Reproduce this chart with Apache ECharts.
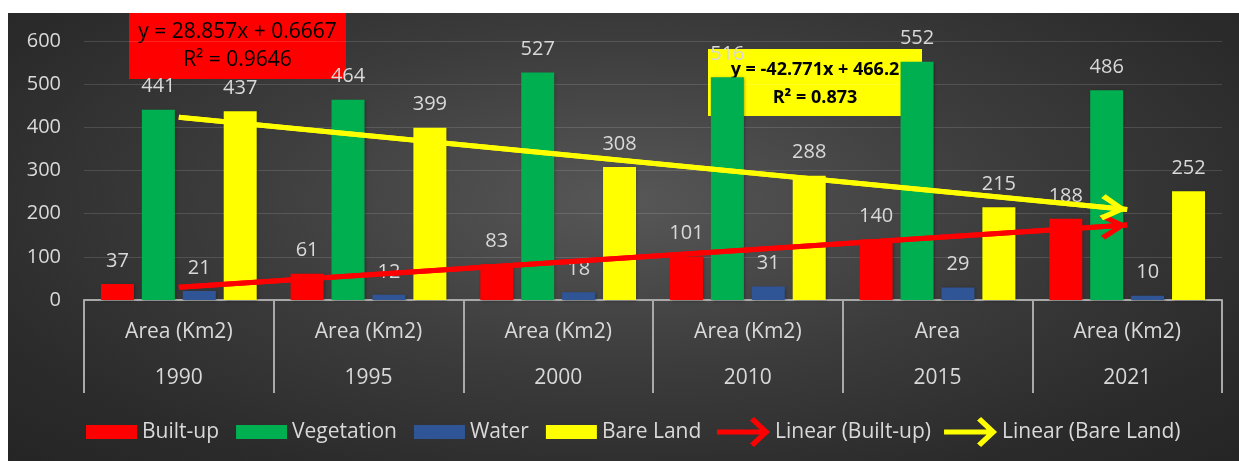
<!DOCTYPE html>
<html>
<head>
<meta charset="utf-8">
<script src="https://cdn.jsdelivr.net/npm/echarts@6/dist/echarts.min.js"></script>
<style>
  html, body { margin: 0; padding: 0; background: #ffffff; width: 1239px; height: 461px; overflow: hidden; }
  #chart {
    position: absolute; left: 8px; top: 13px; width: 1231px; height: 448px;
    background: radial-gradient(ellipse at 50% 42%, #575757 0%, #3c3c3c 45%, #2b2b2b 80%, #252525 100%);
  }
</style>
</head>
<body>
<div id="chart"></div>
<script>
// ---- data ----
const years = ['1990', '1995', '2000', '2010', '2015', '2021'];
const areaLabels = ['Area (Km2)', 'Area (Km2)', 'Area (Km2)', 'Area (Km2)', 'Area', 'Area (Km2)'];
const builtUp = [37, 61, 83, 101, 140, 188];
const vegetation = [441, 464, 527, 516, 552, 486];
const water = [21, 12, 18, 31, 29, 10];
const bareLand = [437, 399, 308, 288, 215, 252];
// trend line end values (first and last category)
const trendBuiltUp = [29.5, 173.8];
const trendBareLand = [423.4, 209.6];
const eqBuiltUp = ['y = 28.857x + 0.6667', 'R² = 0.9646'];
const eqBareLand = ['y = -42.771x + 466.2', 'R² = 0.873'];
const yTicks = [0, 100, 200, 300, 400, 500, 600];

const FONT = '"Open Sans", "DejaVu Sans", sans-serif';
const TXT = '#d9d9d9';
// chevron pointing up, drawn in lower half so its tip sits at the symbol centre
const chevronUp = 'path://M13,0 L13.01,0 Z M13,27 L26,50 L22,54 L13,37 L4,54 L0,50 Z';
const arrowRight = 'path://M0,12.5 L42.6,12.5 L33,3.5 L37,0 L53,15 L37,30 L33,26.5 L42.6,17.5 L0,17.5 Z';

const chart = echarts.init(document.getElementById('chart'), null, { renderer: 'canvas' });

function barSeries(name, values, color) {
  return {
    name, type: 'bar', data: values, barWidth: 33, barGap: '24%',
    itemStyle: { color, shadowBlur: 3, shadowColor: 'rgba(0,0,0,0.35)', shadowOffsetX: 1, shadowOffsetY: 1 },
    label: { show: true, position: 'top', distance: 13, color: TXT, fontSize: 20, fontFamily: FONT },
    emphasis: { disabled: true }
  };
}
function trendSeries(name, ends, color) {
  const last = years.length - 1;
  return {
    name, type: 'line', data: [[0, ends[0]], [last, ends[1]]],
    showSymbol: false, symbol: 'none', silent: true, z: 5,
    lineStyle: { color, width: 5 }, itemStyle: { color },
    markLine: {
      silent: true, animation: false,
      symbol: ['none', chevronUp], symbolSize: [26, 54],
      label: { show: false },
      lineStyle: { color, width: 5, type: 'solid' },
      emphasis: { disabled: true },
      data: [[{ coord: [0, ends[0]] }, { coord: [last, ends[1]] }]]
    }
  };
}

const option = {
  animation: false,
  backgroundColor: 'transparent',
  grid: { left: 76, right: 17, top: 28, bottom: 161 },
  xAxis: {
    type: 'category', data: years,
    axisLine: { lineStyle: { color: '#a9a9a9', width: 2 } },
    axisTick: { show: true, length: 93, lineStyle: { color: '#a9a9a9', width: 2 } },
    axisLabel: {
      margin: 9, interval: 0,
      formatter: (v, i) => '{a|' + areaLabels[i] + '}\n{b|' + v + '}',
      rich: {
        a: { color: TXT, fontSize: 21, fontFamily: FONT, lineHeight: 46 },
        b: { color: TXT, fontSize: 21, fontFamily: FONT, lineHeight: 46 }
      }
    }
  },
  yAxis: {
    type: 'value', min: yTicks[0], max: yTicks[yTicks.length - 1], interval: yTicks[1] - yTicks[0],
    axisLine: { show: false }, axisTick: { show: false },
    axisLabel: { color: TXT, fontSize: 20, fontFamily: FONT, margin: 23 },
    splitLine: { lineStyle: { color: 'rgba(255,255,255,0.13)', width: 1 } }
  },
  legend: [
    {
      data: ['Built-up', 'Vegetation', 'Water', 'Bare Land'], icon: 'rect',
      left: 73, top: 402, itemWidth: 51, itemHeight: 14, itemGap: 17,
      textStyle: { color: TXT, fontSize: 21, fontFamily: FONT, lineHeight: 24 }
    },
    {
      data: [{ name: 'Linear (Built-up)', icon: arrowRight }, { name: 'Linear (Bare Land)', icon: arrowRight }],
      left: 704, top: 399, itemWidth: 53, itemHeight: 30, itemGap: 13,
      textStyle: { color: TXT, fontSize: 21, fontFamily: FONT, lineHeight: 24 }
    }
  ],
  series: [
    barSeries('Built-up', builtUp, '#ff0000'),
    barSeries('Vegetation', vegetation, '#00b050'),
    barSeries('Water', water, '#2f5597'),
    barSeries('Bare Land', bareLand, '#ffff00'),
    trendSeries('Linear (Built-up)', trendBuiltUp, '#ff0000'),
    trendSeries('Linear (Bare Land)', trendBareLand, '#ffff00')
  ],
  graphic: [
    {
      type: 'group', left: 121, top: 0, z: 100,
      children: [
        { type: 'rect', shape: { x: 0, y: 0, width: 217, height: 66 }, style: { fill: '#ff0000' } },
        { type: 'text', x: 108.5, y: 19, style: { text: eqBuiltUp[0], fill: '#000', font: '21px ' + FONT, textAlign: 'center', textVerticalAlign: 'middle' } },
        { type: 'text', x: 108.5, y: 47, style: { text: eqBuiltUp[1], fill: '#000', font: '21px ' + FONT, textAlign: 'center', textVerticalAlign: 'middle' } }
      ]
    },
    {
      type: 'group', left: 700, top: 36, z: 100,
      children: [
        { type: 'rect', shape: { x: 0, y: 0, width: 214, height: 67 }, style: { fill: '#ffff00' } },
        { type: 'text', x: 107, y: 21, style: { text: eqBareLand[0], fill: '#000', font: 'bold 18px ' + FONT, textAlign: 'center', textVerticalAlign: 'middle' } },
        { type: 'text', x: 107, y: 49, style: { text: eqBareLand[1], fill: '#000', font: 'bold 18px ' + FONT, textAlign: 'center', textVerticalAlign: 'middle' } }
      ]
    }
  ]
};
chart.setOption(option);
</script>
</body>
</html>
